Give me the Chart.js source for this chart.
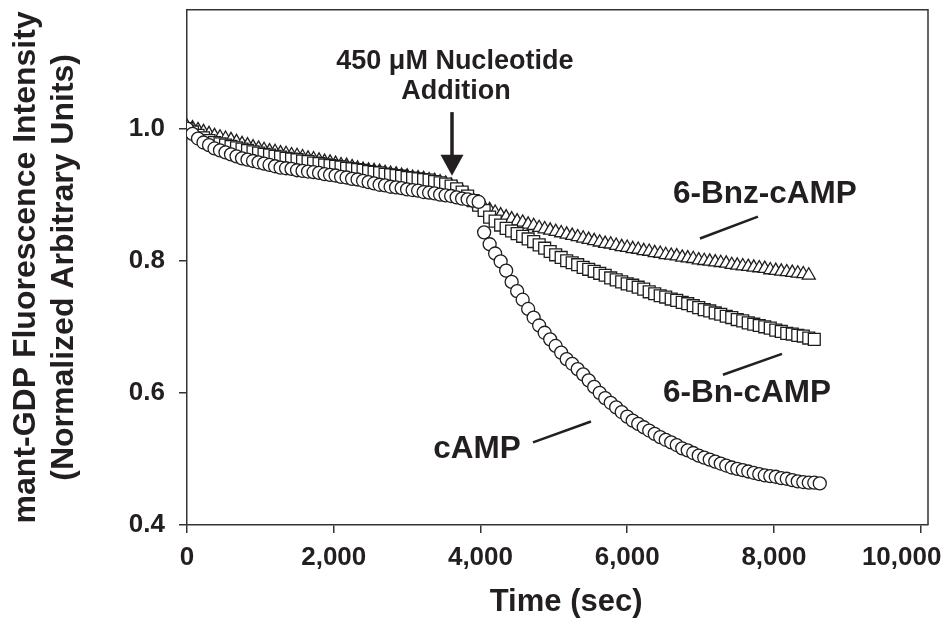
<!DOCTYPE html>
<html>
<head>
    <meta charset="utf-8">
    <script src="https://cdn.jsdelivr.net/npm/chart.js"></script>
    <style>
        body { margin: 0; background: #fff; }
    </style>
</head>
<body>
<canvas id="fluorChart" width="950" height="627"></canvas>
<script>
// time points (sec)
const times = [
    0, 75, 150, 225, 300, 375, 450, 525, 600, 675,
    750, 825, 900, 975, 1050, 1125, 1200, 1275, 1350, 1425,
    1500, 1575, 1650, 1725, 1800, 1875, 1950, 2025, 2100, 2175,
    2250, 2325, 2400, 2475, 2550, 2625, 2700, 2775, 2850, 2925,
    3000, 3075, 3150, 3225, 3300, 3375, 3450, 3525, 3600, 3675,
    3750, 3825, 3900, 3975, 4050, 4125, 4200, 4275, 4350, 4425,
    4500, 4575, 4650, 4725, 4800, 4875, 4950, 5025, 5100, 5175,
    5250, 5325, 5400, 5475, 5550, 5625, 5700, 5775, 5850, 5925,
    6000, 6075, 6150, 6225, 6300, 6375, 6450, 6525, 6600, 6675,
    6750, 6825, 6900, 6975, 7050, 7125, 7200, 7275, 7350, 7425,
    7500, 7575, 7650, 7725, 7800, 7875, 7950, 8025, 8100, 8175,
    8250, 8325, 8400, 8475, 8550, 8625
]

// cAMP (circles)
const campValues = [
    1.000, 0.992, 0.985, 0.979, 0.975, 0.970, 0.967, 0.964, 0.961, 0.958,
    0.955, 0.953, 0.951, 0.949, 0.947, 0.945, 0.943, 0.941, 0.940, 0.939,
    0.937, 0.936, 0.935, 0.934, 0.933, 0.931, 0.930, 0.929, 0.927, 0.926,
    0.924, 0.923, 0.921, 0.919, 0.917, 0.915, 0.914, 0.912, 0.911, 0.910,
    0.908, 0.907, 0.906, 0.904, 0.903, 0.902, 0.900, 0.899, 0.898, 0.896,
    0.894, 0.893, 0.891, 0.889,
    0.843, 0.825, 0.811, 0.799, 0.785, 0.768, 0.754, 0.741, 0.727, 0.714,
    0.702, 0.691, 0.681, 0.671, 0.661, 0.651, 0.644, 0.636, 0.628, 0.619,
    0.609, 0.600, 0.592, 0.585, 0.578, 0.571, 0.564, 0.558, 0.553, 0.548,
    0.543, 0.538, 0.533, 0.529, 0.525, 0.521, 0.516, 0.513, 0.509, 0.505,
    0.502, 0.499, 0.496, 0.493, 0.490, 0.487, 0.485, 0.483, 0.481, 0.479,
    0.477, 0.475, 0.474, 0.473, 0.471, 0.470, 0.468, 0.466, 0.465, 0.464,
    0.464, 0.463
]

// 6-Bn-cAMP (squares)
const bnValues = [
    1.000, 0.995, 0.990, 0.986, 0.982, 0.979, 0.977, 0.975, 0.973, 0.971,
    0.969, 0.967, 0.965, 0.963, 0.961, 0.960, 0.958, 0.957, 0.955, 0.954,
    0.953, 0.951, 0.950, 0.948, 0.947, 0.945, 0.944, 0.943, 0.942, 0.940,
    0.939, 0.938, 0.937, 0.935, 0.934, 0.933, 0.931, 0.930, 0.929, 0.928,
    0.926, 0.925, 0.924, 0.923, 0.922, 0.920, 0.918, 0.916, 0.913, 0.909,
    0.904, 0.898, 0.891, 0.884, 0.876, 0.866, 0.860, 0.854, 0.849, 0.845,
    0.841, 0.837, 0.833, 0.829, 0.824, 0.819, 0.814, 0.809, 0.805, 0.800,
    0.797, 0.794, 0.790, 0.787, 0.784, 0.781, 0.778, 0.774, 0.771, 0.768,
    0.765, 0.763, 0.760, 0.757, 0.753, 0.750, 0.747, 0.745, 0.742, 0.740,
    0.737, 0.735, 0.732, 0.729, 0.726, 0.724, 0.721, 0.719, 0.716, 0.714,
    0.711, 0.709, 0.706, 0.704, 0.702, 0.700, 0.698, 0.695, 0.693, 0.690,
    0.689, 0.687, 0.686, 0.683, 0.681
]

// 6-Bnz-cAMP (triangles)
const bnzValues = [
    1.003, 1.001, 0.998, 0.995, 0.992, 0.989, 0.987, 0.985, 0.983, 0.980,
    0.977, 0.975, 0.972, 0.970, 0.968, 0.966, 0.965, 0.963, 0.962, 0.960,
    0.959, 0.957, 0.955, 0.954, 0.952, 0.950, 0.949, 0.947, 0.945, 0.944,
    0.942, 0.940, 0.938, 0.937, 0.936, 0.935, 0.933, 0.932, 0.931, 0.929,
    0.928, 0.926, 0.925, 0.924, 0.922, 0.921, 0.919, 0.917, 0.914, 0.910,
    0.905, 0.899, 0.892, 0.886, 0.881, 0.877, 0.873, 0.869, 0.866, 0.863,
    0.860, 0.858, 0.855, 0.853, 0.850, 0.848, 0.846, 0.844, 0.842, 0.840,
    0.838, 0.836, 0.834, 0.832, 0.830, 0.828, 0.826, 0.825, 0.823, 0.821,
    0.820, 0.818, 0.817, 0.815, 0.814, 0.812, 0.811, 0.809, 0.808, 0.807,
    0.805, 0.804, 0.803, 0.801, 0.800, 0.799, 0.798, 0.797, 0.796, 0.794,
    0.793, 0.792, 0.791, 0.790, 0.789, 0.788, 0.786, 0.785, 0.784, 0.783,
    0.782, 0.781, 0.780, 0.778
]

const xTicks = [0, 2000, 4000, 6000, 8000, 10000]
const yTicks = [0.4, 0.6, 0.8, 1.0]

// labels placed in data units (time, intensity)
const seriesLabels = ['6-Bnz-cAMP', '6-Bn-cAMP', 'cAMP']
const labelTimes = [7878, 7633, 3953]
const labelValues = [0.900, 0.5995, 0.5144]
// callout line ends [t1, v1, t2, v2]
const callouts = [
    [6992, 0.8337, 7782, 0.8668],
    [7305, 0.6274, 8110, 0.659],
    [4716, 0.525, 5506, 0.5566]
]
const noteLines = ['450 μM Nucleotide', 'Addition']
const noteTimes = [3651, 3665]
const noteValues = [1.1017, 1.0565]
const arrowTime = 3612
const arrowFrom = 1.025
const arrowTo = 0.9285

const ink = '#231f20'
const fontFamily = "'Liberation Sans', Arial, Helvetica, sans-serif"

function toPoints(values){
    return values.map((v, i) => ({x: times[i], y: v}))
}

const frameAndNotes = {
    id: 'frameAndNotes',
    beforeDraw(chart){
        // keep the last x label inside the frame like the original
        const items = chart.scales.x.getLabelItems()
        const last = items[items.length - 1]
        if (last && last.label === '10,000' && !last._moved) {
            last.options.translation[0] -= 19
            last._moved = true
        }
    },
    beforeDatasetsDraw(chart){
        const {ctx, chartArea} = chart
        ctx.save()
        ctx.strokeStyle = '#333'
        ctx.lineWidth = 1.5
        ctx.beginPath()
        ctx.moveTo(chartArea.left, chartArea.top)
        ctx.lineTo(chartArea.right, chartArea.top)
        ctx.lineTo(chartArea.right, chartArea.bottom)
        ctx.stroke()
        ctx.restore()
    },
    afterDatasetsDraw(chart){
        const {ctx} = chart
        const xs = chart.scales.x
        const ys = chart.scales.y
        ctx.save()
        ctx.fillStyle = ink
        ctx.strokeStyle = ink
        ctx.textAlign = 'center'
        ctx.textBaseline = 'middle'

        ctx.font = 'bold 31.5px ' + fontFamily
        for (let i = 0; i < seriesLabels.length; i++) {
            ctx.fillText(seriesLabels[i], xs.getPixelForValue(labelTimes[i]), ys.getPixelForValue(labelValues[i]))
        }
        ctx.lineWidth = 2.5
        callouts.forEach(c => {
            ctx.beginPath()
            ctx.moveTo(xs.getPixelForValue(c[0]), ys.getPixelForValue(c[1]))
            ctx.lineTo(xs.getPixelForValue(c[2]), ys.getPixelForValue(c[3]))
            ctx.stroke()
        })

        ctx.font = 'bold 27px ' + fontFamily
        for (let i = 0; i < noteLines.length; i++) {
            ctx.fillText(noteLines[i], xs.getPixelForValue(noteTimes[i]), ys.getPixelForValue(noteValues[i]))
        }

        // arrow
        const ax = xs.getPixelForValue(arrowTime)
        const ay1 = ys.getPixelForValue(arrowFrom)
        const ay2 = ys.getPixelForValue(arrowTo)
        ctx.lineWidth = 3.5
        ctx.beginPath()
        ctx.moveTo(ax, ay1)
        ctx.lineTo(ax, ay2 - 18)
        ctx.stroke()
        ctx.beginPath()
        ctx.moveTo(ax - 11.5, ay2 - 21)
        ctx.lineTo(ax + 11.5, ay2 - 21)
        ctx.lineTo(ax, ay2)
        ctx.closePath()
        ctx.fill()
        ctx.restore()
    }
}

const markerBase = {
    showLine: false,
    backgroundColor: '#ffffff',
    borderColor: '#1e1e1e',
    borderWidth: 1.3,
    pointBorderWidth: 1.3,
    pointHoverRadius: 0
}

const chart = document.getElementById('fluorChart')
let scatterChart = new Chart(chart, {
    type: 'scatter',
    data: {
        datasets: [
            Object.assign({label: 'cAMP', data: toPoints(campValues), pointStyle: 'circle', pointRadius: 6.5}, markerBase),
            Object.assign({label: '6-Bn-cAMP', data: toPoints(bnValues), pointStyle: 'rect', pointRadius: 8.4}, markerBase),
            Object.assign({label: '6-Bnz-cAMP', data: toPoints(bnzValues), pointStyle: 'triangle', pointRadius: 7.5}, markerBase)
        ]
    },
    options: {
        responsive: false,
        animation: false,
        devicePixelRatio: 1,
        layout: {padding: {left: 0, top: 7, right: 22, bottom: 0}},
        plugins: {
            legend: {display: false},
            tooltip: {enabled: false}
        },
        scales: {
            x: {
                type: 'linear',
                min: 0,
                max: 10100,
                afterFit(scale){
                    scale.height = 102
                    scale.paddingLeft = 0
                    scale.paddingRight = 0
                },
                afterBuildTicks(scale){
                    scale.ticks = xTicks.map(v => ({value: v}))
                },
                ticks: {
                    autoSkip: false,
                    maxRotation: 0,
                    padding: 9,
                    color: ink,
                    font: {family: fontFamily, size: 26, weight: 'bold'},
                    callback: v => v.toLocaleString('en-US')
                },
                grid: {
                    drawOnChartArea: false,
                    drawTicks: true,
                    tickLength: 8,
                    color: '#333',
                    lineWidth: 1.5
                },
                border: {display: true, color: '#333', width: 1.5},
                title: {
                    display: true,
                    text: '  Time (sec)',
                    color: ink,
                    padding: {top: 0, bottom: 6},
                    font: {family: fontFamily, size: 31, weight: 'bold', lineHeight: 1.2}
                }
            },
            y: {
                type: 'linear',
                min: 0.4,
                max: 1.18,
                afterFit(scale){
                    scale.width = 187
                    scale.paddingTop = 0
                    scale.paddingBottom = 0
                },
                afterBuildTicks(scale){
                    scale.ticks = yTicks.map(v => ({value: v}))
                },
                ticks: {
                    padding: 14,
                    color: ink,
                    font: {family: fontFamily, size: 26, weight: 'bold'},
                    callback: v => v.toFixed(1)
                },
                grid: {
                    drawOnChartArea: false,
                    drawTicks: true,
                    tickLength: 8,
                    color: '#333',
                    lineWidth: 1.5
                },
                border: {display: true, color: '#333', width: 1.5},
                title: {
                    display: true,
                    text: ['mant-GDP Fluorescence Intensity', '(Normalized Arbitrary Units)'],
                    color: ink,
                    padding: {top: 7, bottom: 0},
                    font: {family: fontFamily, size: 32, weight: 'bold', lineHeight: 1.2}
                }
            }
        }
    },
    plugins: [frameAndNotes]
})
</script>
</body>
</html>
